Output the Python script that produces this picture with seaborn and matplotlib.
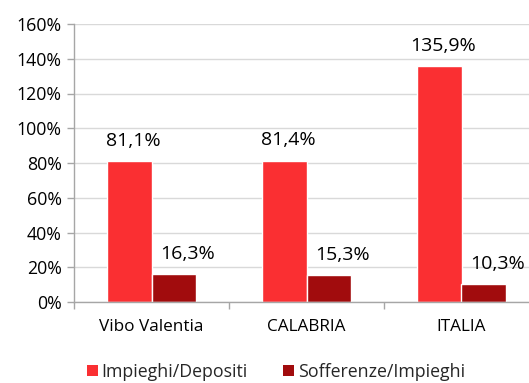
import matplotlib
matplotlib.use("Agg")
import matplotlib.pyplot as plt
import seaborn as sns
import pandas as pd
from matplotlib.ticker import FixedLocator, FuncFormatter
from matplotlib.patches import Patch

categories = ["Vibo Valentia", "CALABRIA", "ITALIA"]
series_names = ["Impieghi/Depositi", "Sofferenze/Impieghi"]
impieghi_depositi = [81.1, 81.4, 135.9]
sofferenze_impieghi = [16.3, 15.3, 10.3]
colors = ["#FA2F32", "#A10C0D"]
yticks = [0, 20, 40, 60, 80, 100, 120, 140, 160]

df = pd.DataFrame({
    "area": categories * 2,
    "serie": [series_names[0]] * 3 + [series_names[1]] * 3,
    "valore": impieghi_depositi + sofferenze_impieghi,
})

sns.set_theme(style="white")
plt.rcParams["font.family"] = ["Open Sans", "DejaVu Sans"]

fig = plt.figure(figsize=(5.29, 3.83), dpi=100)
ax = fig.add_axes([74 / 529, 81 / 383, 465 / 529, 278 / 383])

sns.barplot(data=df, x="area", y="valore", hue="serie", palette=colors,
            width=0.575, ax=ax, legend=False, saturation=1)

ax.set_ylim(0, 160)
ax.set_xlim(-0.5, 2.5)
ax.yaxis.set_major_locator(FixedLocator(yticks))
ax.yaxis.set_major_formatter(FuncFormatter(lambda v, p: f"{int(v)}%"))
ax.grid(axis="y", color="#D9D9D9", linewidth=1)
ax.set_axisbelow(True)
ax.set_xlabel("")
ax.set_ylabel("")

for side in ["top", "right"]:
    ax.spines[side].set_visible(False)
for side in ["left", "bottom"]:
    ax.spines[side].set_color("#A6A6A6")
    ax.spines[side].set_linewidth(1)

ax.tick_params(axis="y", which="major", left=True, length=5, width=1,
               color="#A6A6A6", labelsize=12.8, pad=4, labelcolor="#000000")
ax.tick_params(axis="x", which="major", bottom=False, labelsize=12.3,
               pad=6, labelcolor="#000000")
ax.xaxis.set_minor_locator(FixedLocator([-0.5, 0.5, 1.5, 2.5]))
ax.tick_params(axis="x", which="minor", bottom=True, length=5, width=1,
               color="#A6A6A6")

# value labels above each bar, nudged slightly to the right
label_shift = [3, 10]
for container, dx in zip(ax.containers, label_shift):
    for b in container:
        txt = f"{b.get_height():.1f}%".replace(".", ",")
        ax.annotate(txt, (b.get_x() + b.get_width() / 2, b.get_height()),
                    xytext=(dx, 8), textcoords="offset points",
                    ha="center", va="bottom", fontsize=14, color="#000000")

handles = [Patch(facecolor=c, edgecolor="none") for c in colors]
fig.legend(handles, series_names, loc="center", ncol=2,
           bbox_to_anchor=(276 / 529, 1 - 372 / 383), frameon=False,
           fontsize=12.8, handlelength=0.6, handleheight=0.6,
           handletextpad=0.2, columnspacing=2.0, borderaxespad=0)

fig.savefig("out.png", dpi=100)
